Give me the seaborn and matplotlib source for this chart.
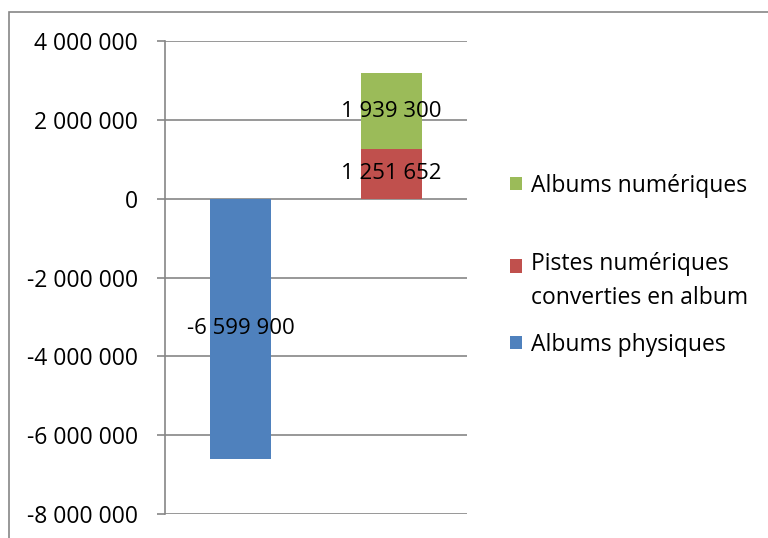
import numpy as np
import pandas as pd
import seaborn as sns
import matplotlib.pyplot as plt
from matplotlib.patches import Rectangle, Patch
from matplotlib.legend_handler import HandlerPatch
from matplotlib.ticker import FuncFormatter

# two stacks: physical albums (left), digital sales (right)
categories = ['Physique', 'Numérique']
albums_physiques = [-6599900, 0]
pistes_converties = [0, 1251652]
albums_numeriques = [0, 1939300]
series_names = ['Albums physiques', 'Pistes numériques\nconverties en album', 'Albums numériques']
colors = ['#4f81bd', '#c0504d', '#9bbb59']

sns.set_style('white')
plt.rcParams['font.family'] = ['Open Sans', 'DejaVu Sans']
plt.rcParams['text.color'] = 'black'
grey = '#868686'
fs = 16.5

def fmt_space(v, pos=None):
    return '{:,.0f}'.format(v).replace(',', ' ')

fig = plt.figure(figsize=(7.68, 5.38), dpi=100)
ax = fig.add_axes([0.2148, 0.0446, 0.3932, 0.8792])

sns.barplot(x=categories, y=albums_physiques, color=colors[0], width=0.4,
            saturation=1, linewidth=0, ax=ax)
sns.barplot(x=categories, y=pistes_converties, color=colors[1], width=0.4,
            saturation=1, linewidth=0, ax=ax)
sns.barplot(x=categories, y=albums_numeriques, color=colors[2], width=0.4,
            saturation=1, linewidth=0, bottom=pistes_converties, ax=ax)

for cont in ax.containers:
    labs = [fmt_space(b.get_height()) if b.get_height() != 0 else '' for b in cont]
    ax.bar_label(cont, labels=labs, label_type='center', fontsize=16, color='black')

ax.set_ylim(-8000000, 4000000)
ax.set_yticks(np.arange(-8000000, 4000001, 2000000))
ax.yaxis.set_major_formatter(FuncFormatter(fmt_space))
ax.set_xticks([])
ax.set_xlabel('')
ax.set_ylabel('')
ax.grid(axis='y', color=grey, linewidth=1.2)
ax.set_axisbelow(True)
for s in ['top', 'right', 'bottom']:
    ax.spines[s].set_visible(False)
ax.spines['left'].set_color(grey)
ax.spines['left'].set_linewidth(1.2)
ax.tick_params(axis='y', which='major', left=True, length=6, width=1.2,
               color=grey, labelsize=fs, pad=13.5, labelcolor='black')

# legend entries laid out one by one (Excel-like uneven spacing),
# square of a two-line entry sits on its first line
def square_at(shift):
    def make(legend, orig_handle, xdescent, ydescent, width, height, fontsize):
        return Rectangle((-xdescent, -ydescent + shift), width, height)
    return make

legend_y = [0.655, 0.477, 0.359]
for name, col, y in zip(series_names[::-1], colors[::-1], legend_y):
    shift = name.count('\n') * 11.7
    leg = fig.legend([Patch(facecolor=col, edgecolor='none')], [name],
                     loc='center left', bbox_to_anchor=(0.637, y),
                     frameon=False, fontsize=fs, handlelength=0.52,
                     handleheight=0.52, handletextpad=0.4, labelcolor='black',
                     handler_map={Patch: HandlerPatch(patch_func=square_at(shift))})
    for t in leg.get_texts():
        t.set_linespacing(1.55)

# outer chart frame, cut off on the right and bottom like the source image
fig.patches.append(Rectangle((8.5 / 768, -0.05), 1.2, 1 - 11.5 / 538 + 0.05,
                             transform=fig.transFigure, fill=False,
                             edgecolor=grey, linewidth=1.2))

fig.savefig('out.png', dpi=100)
